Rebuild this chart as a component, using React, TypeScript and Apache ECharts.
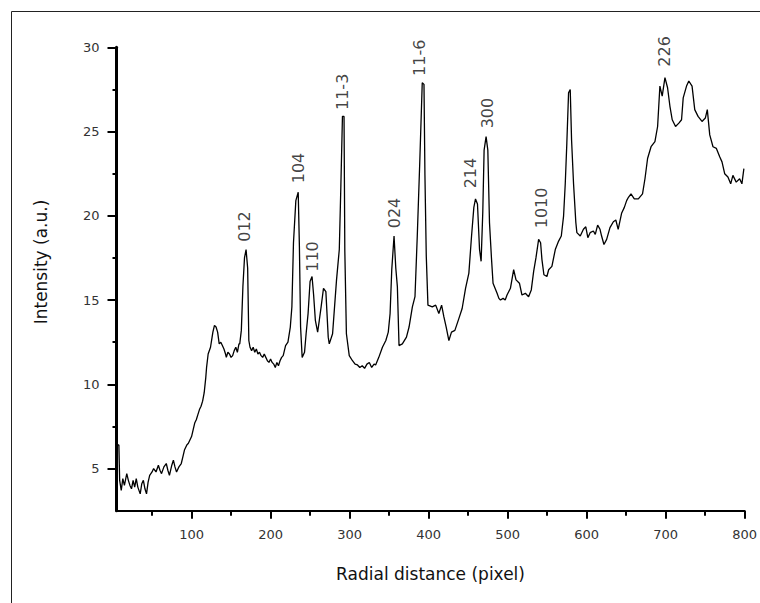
import React, { useEffect, useRef } from "react";
import * as echarts from "echarts";

// Radial distance (pixel) of each sample
const radialDistance = [
  5, 6, 8, 9, 11, 13, 15, 18, 20, 22, 24, 26, 28, 30, 32, 35, 37, 39, 41, 43, 45, 47, 50, 52, 55, 58, 60, 62, 65, 68,
  70, 72, 75, 77, 79, 81, 84, 87, 89, 91, 94, 96, 100, 102, 104, 106, 108, 110, 112, 114, 116, 118, 119, 121, 124, 126,
  127, 129, 131, 133, 135, 137, 139, 141, 143, 144, 146, 148, 150, 152, 154, 156, 158, 160, 161, 163, 165, 167, 169, 171,
  172.5, 174, 176, 178, 180, 182, 184, 186, 188, 190, 192, 194, 196, 198, 200, 202, 204, 206, 208, 210, 212, 214, 216,
  219, 222, 225, 227, 229, 232, 235, 236.5, 238, 240, 243, 245, 247.5, 250, 252.5, 254.5, 256.7, 259.6, 261.7, 264, 267,
  270, 273, 274.3, 278.5, 283.5, 287, 289, 291, 293, 294, 296, 299.6, 303.7, 307, 310, 313, 316, 319, 322, 325, 328, 331,
  333, 337, 341.6, 345.9, 349, 351.3, 353.4, 356.3, 358.5, 360.5, 362.6, 366.8, 372, 375.3, 379.5, 382.8, 385.7, 388.8,
  392, 394.2, 395.4, 397.1, 399.2, 404.7, 409, 413, 416.5, 419.4, 422.3, 425.7, 429, 433.3, 438.3, 442.5, 446.8, 451,
  454.4, 457.3, 459.4, 461.9, 464.5, 466.5, 468.6, 470.3, 472.8, 475, 477.1, 479.6, 481.6, 486.7, 489, 491, 494.3, 497,
  499.3, 503.6, 507.7, 510.7, 515, 518.2, 522.5, 526.6, 530, 533, 535.9, 539.3, 541.8, 543.5, 546, 549.8, 552, 556.1,
  560.4, 564.6, 568, 570.9, 573, 575, 577.2, 579.3, 581, 583.5, 586.4, 587.7, 592, 596, 599, 601.6, 604.5, 608.6, 611,
  614, 617, 619, 622, 625.4, 629.6, 633.9, 637, 640, 644.3, 647.8, 650.7, 653, 656.2, 660.4, 665.5, 670.8, 673.9, 677.2,
  681.6, 686.5, 689.9, 692.8, 695.7, 699.2, 702.5, 705.5, 708.4, 712.6, 716.8, 720.2, 722.3, 726.5, 729.4, 733.5, 736.9,
  741.1, 746.1, 750.3, 752.8, 755.9, 760, 764.3, 768.5, 771.4, 774.8, 778.9, 782.4, 785.2, 789.4, 793.7, 796.6, 799.1,
];

// Intensity (a.u.) of each sample
const intensity = [
  31, 6.4, 6.4, 4.3, 3.7, 4.4, 4.0, 4.7, 4.3, 4.0, 3.8, 4.3, 3.9, 4.4, 3.9, 3.5, 4.1, 4.3, 3.8, 3.5, 4.2, 4.6, 4.8, 5.0,
  4.8, 5.2, 4.9, 4.7, 5.1, 5.3, 4.9, 4.6, 5.2, 5.5, 5.1, 4.8, 5.1, 5.3, 5.7, 6.1, 6.4, 6.5, 6.9, 7.3, 7.7, 7.9, 8.2, 8.5,
  8.7, 9.0, 9.5, 10.4, 11.0, 11.8, 12.2, 12.8, 13.1, 13.5, 13.4, 13.1, 12.4, 12.5, 12.3, 12.1, 11.8, 11.6, 11.9, 11.8,
  11.6, 11.7, 12.0, 12.2, 11.9, 12.4, 12.4, 13.2, 15.8, 17.5, 18.0, 16.9, 12.6, 12.2, 12.0, 12.2, 11.9, 12.1, 11.8, 11.9,
  11.7, 11.6, 11.8, 11.6, 11.4, 11.3, 11.5, 11.3, 11.2, 11.0, 11.3, 11.1, 11.4, 11.6, 11.7, 12.3, 12.5, 13.4, 14.6, 18.4,
  20.9, 21.4, 18.2, 13.4, 11.6, 11.9, 13.0, 14.2, 16.1, 16.4, 15.3, 13.8, 13.1, 13.8, 14.6, 15.7, 15.5, 12.8, 12.4, 13.0,
  16.2, 18.0, 21.8, 25.9, 25.9, 17.9, 13.0, 11.7, 11.4, 11.2, 11.15, 11.0, 11.1, 10.95, 11.2, 11.3, 11.0, 11.2, 11.15,
  11.6, 12.2, 12.6, 13.1, 14.2, 16.8, 18.8, 16.9, 15.8, 12.3, 12.4, 12.8, 13.4, 14.6, 15.2, 18.8, 23.1, 27.9, 27.8, 22.4,
  17.6, 14.7, 14.6, 14.7, 14.2, 14.7, 14.0, 13.4, 12.6, 13.1, 13.2, 13.9, 14.5, 15.7, 16.6, 18.8, 20.5, 21.0, 20.7, 18.0,
  17.3, 20.2, 23.9, 24.7, 23.9, 19.6, 17.5, 16.0, 15.4, 15.1, 15.0, 15.1, 15.0, 15.3, 15.7, 16.8, 16.2, 16.0, 15.3, 15.4,
  15.2, 15.6, 16.7, 17.5, 18.6, 18.4, 17.4, 16.5, 16.4, 16.8, 17.0, 18.0, 18.5, 18.8, 20.0, 21.9, 24.3, 27.3, 27.5, 24.5,
  21.9, 19.6, 19.0, 18.8, 19.2, 19.35, 18.7, 19.0, 19.1, 18.9, 19.45, 19.2, 18.8, 18.3, 18.6, 19.3, 19.65, 19.75, 19.2,
  20.15, 20.5, 20.9, 21.1, 21.3, 21.0, 21.0, 21.3, 22.2, 23.4, 24.1, 24.4, 25.3, 27.7, 27.1, 28.2, 27.6, 26.5, 25.7, 25.3,
  25.5, 25.7, 27.0, 27.7, 28.0, 27.7, 26.3, 25.9, 25.6, 25.8, 26.3, 24.8, 24.1, 24.0, 23.5, 23.2, 22.5, 22.3, 21.9, 22.4,
  22.0, 22.2, 21.9, 22.8,
];

// Peak (hkl) annotations: text and the data point where each label starts
const peakLabels = ["012", "104", "110", "11-3", "024", "11-6", "214", "300", "1010", "226"];
const peakLabelX = [167, 235.2, 253.3, 291.6, 356.3, 388.2, 453.1, 474, 543, 699];
const peakLabelY = [18.46, 21.93, 16.68, 26.28, 19.26, 28.3, 21.63, 25.19, 19.26, 28.85];

// Axis ticks
const xMajorTicks = [100, 200, 300, 400, 500, 600, 700, 800];
const xMinorTicks = [50, 150, 250, 350, 450, 550, 650, 750];
const yMajorTicks = [5, 10, 15, 20, 25, 30];
const yMinorTicks = [7.5, 12.5, 17.5, 22.5, 27.5];

const FONT = "DejaVu Sans";

export default function App() {
  const ref = useRef<HTMLDivElement>(null);

  useEffect(() => {
    if (!ref.current) return;
    const chart = echarts.init(ref.current, null, { renderer: "svg" });
    const lineData = radialDistance.map((x, i) => [x, intensity[i]]);
    const labelData = peakLabels.map((t, i) => ({ value: [peakLabelX[i], peakLabelY[i]], name: t }));

    const xBase = { type: "value", min: 5, max: 800, gridIndex: 0, position: "bottom", splitLine: { show: false } };
    const yBase = { type: "value", min: 2.5, max: 30, gridIndex: 0, position: "left", splitLine: { show: false } };

    chart.setOption({
      animation: false,
      backgroundColor: "#ffffff",
      grid: { left: 116.5, right: 13.3, top: 47.3, bottom: 92.3, containLabel: false },
      xAxis: [
        {
          ...xBase,
          name: "Radial distance (pixel)",
          nameLocation: "middle",
          nameGap: 55,
          nameTextStyle: { fontFamily: FONT, fontSize: 17, color: "#111" },
          axisLine: { show: true, lineStyle: { color: "#000", width: 2 } },
          axisTick: { show: true, customValues: xMajorTicks, length: 8, lineStyle: { color: "#000", width: 2 } },
          axisLabel: { show: true, customValues: xMajorTicks, margin: 17, fontFamily: FONT, fontSize: 13, color: "#333" },
        },
        {
          ...xBase,
          axisLine: { show: false },
          axisTick: { show: true, customValues: xMinorTicks, length: 5, lineStyle: { color: "#000", width: 2 } },
          axisLabel: { show: false },
        },
      ],
      yAxis: [
        {
          ...yBase,
          axisLine: { show: true, lineStyle: { color: "#000", width: 3 } },
          axisTick: { show: true, customValues: yMajorTicks, length: 9, lineStyle: { color: "#000", width: 2 } },
          axisLabel: { show: true, customValues: yMajorTicks, margin: 17, fontFamily: FONT, fontSize: 13, color: "#333" },
        },
        {
          ...yBase,
          axisLine: { show: false },
          axisTick: { show: true, customValues: yMinorTicks, length: 4, lineStyle: { color: "#000", width: 2 } },
          axisLabel: { show: false },
        },
      ],
      graphic: [
        {
          type: "rect",
          silent: true,
          shape: { x: 11.5, y: 11.5, width: 800, height: 700 },
          style: { fill: "none", stroke: "#222", lineWidth: 1 },
        },
        {
          type: "text",
          x: 41,
          y: 262,
          rotation: Math.PI / 2,
          style: {
            text: "Intensity (a.u.)",
            fontFamily: FONT,
            fontSize: 17,
            fill: "#111",
            align: "center",
            verticalAlign: "middle",
          },
        },
      ],
      series: [
        {
          type: "line",
          data: lineData,
          xAxisIndex: 0,
          yAxisIndex: 0,
          showSymbol: false,
          symbol: "none",
          clip: true,
          lineStyle: { color: "#000", width: 1.3 },
          z: 3,
        },
        {
          type: "scatter",
          data: labelData,
          xAxisIndex: 0,
          yAxisIndex: 0,
          symbolSize: 0,
          silent: true,
          itemStyle: { color: "#111" },
          label: {
            show: true,
            position: "inside",
            rotate: 90,
            align: "left",
            verticalAlign: "middle",
            formatter: (p: any) => p.name,
            fontFamily: FONT,
            fontSize: 16,
            color: "#111",
            textBorderWidth: 0,
            textBorderColor: "transparent",
          },
          z: 4,
        },
      ],
    });
    return () => chart.dispose();
  }, []);

  return (
    <div
      ref={ref}
      style={{ position: "absolute", left: 0, top: 0, width: 760, height: 603, background: "#fff" }}
    />
  );
}
